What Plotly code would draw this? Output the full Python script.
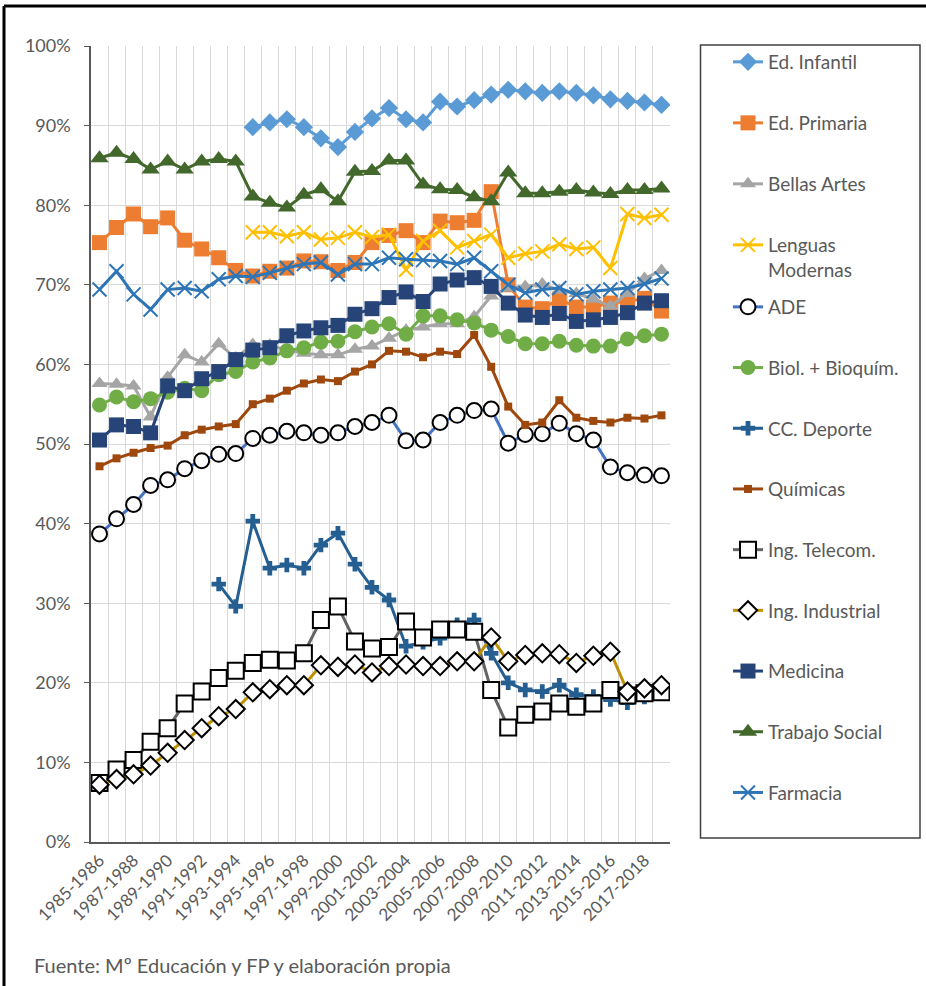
import plotly.graph_objects as go

cursos = ["1985-1986", "1986-1987", "1987-1988", "1988-1989", "1989-1990", "1990-1991",
          "1991-1992", "1992-1993", "1993-1994", "1994-1995", "1995-1996", "1996-1997",
          "1997-1998", "1998-1999", "1999-2000", "2000-2001", "2001-2002", "2002-2003",
          "2003-2004", "2004-2005", "2005-2006", "2006-2007", "2007-2008", "2008-2009",
          "2009-2010", "2010-2011", "2011-2012", "2012-2013", "2013-2014", "2014-2015",
          "2015-2016", "2016-2017", "2017-2018", "2018-2019"]

ed_infantil = [None, None, None, None, None, None, None, None, None,
               89.8, 90.4, 90.8, 89.8, 88.4, 87.3, 89.2, 90.9, 92.2, 90.8, 90.4, 93.0, 92.4,
               93.2, 93.9, 94.5, 94.3, 94.1, 94.3, 94.1, 93.8, 93.3, 93.1, 92.9, 92.6]
ed_primaria = [75.3, 77.2, 78.9, 77.3, 78.4, 75.6, 74.5, 73.4, 71.8, 71.1, 71.7, 72.1, 73.0,
               72.9, 71.8, 72.8, 75.3, 76.2, 76.8, 75.3, 78.0, 77.8, 78.1, 81.7, 70.0, 67.2,
               67.0, 68.2, 67.2, 67.2, 67.7, 67.9, 68.3, 66.7]
bellas_artes = [57.6, 57.5, 57.3, 53.4, 58.4, 61.2, 60.3, 62.6, 60.8, 62.5, 62.4, 61.8, 61.4,
                61.2, 61.2, 61.9, 62.3, 63.3, 64.3, 64.7, 65.1, 65.1, 66.0, 68.6, 69.6, 69.8,
                70.1, 69.3, 68.9, 68.2, 67.3, 68.9, 70.8, 71.8]
lenguas_modernas = [None, None, None, None, None, None, None, None, None,
                    76.6, 76.6, 76.1, 76.6, 75.7, 75.9, 76.6, 76.0, 76.3, 71.9, 75.5, 76.8,
                    74.7, 75.5, 76.3, 73.4, 73.9, 74.2, 75.1, 74.5, 74.7, 72.1, 78.9, 78.4, 78.8]
ade = [38.7, 40.6, 42.4, 44.8, 45.5, 46.9, 47.9, 48.7, 48.8, 50.7, 51.1, 51.6, 51.4, 51.1,
       51.4, 52.2, 52.7, 53.6, 50.4, 50.5, 52.7, 53.6, 54.2, 54.4, 50.1, 51.2, 51.3, 52.6,
       51.3, 50.5, 47.1, 46.4, 46.1, 46.0]
biol_bioquim = [54.9, 55.9, 55.3, 55.7, 56.5, 57.0, 56.7, 58.7, 59.1, 60.3, 60.8, 61.7, 62.1,
                62.8, 62.9, 64.1, 64.7, 65.1, 63.8, 66.1, 66.1, 65.6, 65.2, 64.3, 63.5, 62.6,
                62.6, 62.9, 62.4, 62.3, 62.3, 63.2, 63.6, 63.8]
cc_deporte = [None, None, None, None, None, None, None,
              32.4, 29.6, 40.3, 34.4, 34.8, 34.4, 37.3, 38.8, 34.9, 32.0, 30.4, 24.6, 25.1,
              25.6, 27.3, 27.9, 23.7, 20.0, 19.1, 18.9, 19.7, 18.5, 18.3, 17.9, 17.5, 18.2, 18.9]
quimicas = [47.2, 48.2, 48.9, 49.5, 49.8, 51.1, 51.8, 52.2, 52.5, 55.0, 55.7, 56.7, 57.6, 58.1,
            57.9, 59.1, 60.0, 61.7, 61.6, 60.9, 61.6, 61.3, 63.7, 59.7, 54.7, 52.4, 52.7, 55.5,
            53.3, 52.9, 52.7, 53.3, 53.2, 53.6]
ing_telecom = [7.4, 9.1, 10.3, 12.6, 14.3, 17.4, 18.9, 20.6, 21.5, 22.5, 22.9, 22.8, 23.7, 27.9,
               29.6, 25.2, 24.3, 24.5, 27.7, 25.7, 26.7, 26.7, 26.4, 19.1, 14.4, 16.0, 16.4,
               17.4, 17.0, 17.4, 19.1, 18.4, 18.7, 18.8]
ing_industrial = [7.2, 7.9, 8.5, 9.6, 11.2, 12.8, 14.3, 15.8, 16.7, 18.8, 19.2, 19.7, 19.7,
                  22.2, 22.0, 22.3, 21.3, 22.1, 22.3, 22.1, 22.1, 22.7, 22.7, 25.7, 22.7, 23.5,
                  23.7, 23.6, 22.5, 23.4, 23.9, 18.9, 19.3, 19.7]
medicina = [50.5, 52.4, 52.2, 51.4, 57.3, 56.7, 58.2, 59.1, 60.6, 61.8, 62.1, 63.6, 64.2, 64.6,
            64.9, 66.3, 67.0, 68.4, 69.1, 67.9, 70.1, 70.6, 70.9, 69.8, 67.7, 66.2, 65.9, 66.4,
            65.4, 65.6, 65.9, 66.5, 67.7, 68.0]
trabajo_social = [85.9, 86.6, 85.8, 84.5, 85.5, 84.5, 85.5, 85.8, 85.5, 81.1, 80.3, 79.7, 81.3,
                  82.0, 80.5, 84.2, 84.3, 85.6, 85.6, 82.6, 82.0, 81.9, 81.0, 80.5, 84.1, 81.5,
                  81.5, 81.7, 81.9, 81.6, 81.4, 81.9, 81.9, 82.1]
farmacia = [69.4, 71.7, 68.8, 66.9, 69.4, 69.6, 69.2, 70.7, 71.1, 71.0, 71.5, 72.1, 72.6, 72.8,
            71.3, 72.6, 72.6, 73.4, 73.2, 73.1, 73.0, 72.6, 73.4, 71.7, 70.0, 69.0, 69.4, 69.6,
            68.8, 69.2, 69.4, 69.6, 70.1, 70.8]

tick_labels = [c if i % 2 == 0 else "" for i, c in enumerate(cursos)]

FONT = "Lato, 'Open Sans', sans-serif"
TXT = "#595959"

series = [
    ("Ed. Infantil", ed_infantil, "#5B9BD5", dict(symbol="diamond", size=14, color="#5B9BD5")),
    ("Ed. Primaria", ed_primaria, "#ED7D31", dict(symbol="square", size=15, color="#ED7D31")),
    ("Bellas Artes", bellas_artes, "#A5A5A5", dict(symbol="triangle-up", size=14, color="#A5A5A5")),
    ("Lenguas<br>Modernas", lenguas_modernas, "#FFC000",
     dict(symbol="x-thin-open", size=14, color="#FFC000", line=dict(color="#FFC000", width=2))),
    ("ADE", ade, "#4472C4",
     dict(symbol="circle", size=15, color="white", line=dict(color="black", width=2))),
    ("Biol. + Bioquím.", biol_bioquim, "#70AD47", dict(symbol="circle", size=15, color="#70AD47")),
    ("CC. Deporte", cc_deporte, "#255E91", dict(symbol="cross", size=12, color="#255E91")),
    ("Químicas", quimicas, "#9E480E", dict(symbol="square", size=8, color="#9E480E")),
    ("Ing. Telecom.", ing_telecom, "#636363",
     dict(symbol="square", size=16, color="white", line=dict(color="black", width=2))),
    ("Ing. Industrial", ing_industrial, "#BF9000",
     dict(symbol="diamond", size=14, color="white", line=dict(color="black", width=2))),
    ("Medicina", medicina, "#264478", dict(symbol="square", size=15, color="#264478")),
    ("Trabajo Social", trabajo_social, "#43682B", dict(symbol="triangle-up", size=16, color="#43682B")),
    ("Farmacia", farmacia, "#2E75B6",
     dict(symbol="x-thin-open", size=14, color="#2E75B6", line=dict(color="#2E75B6", width=2))),
]

fig = go.Figure()
for i, (name, vals, col, mk) in enumerate(series):
    fig.add_trace(go.Scatter(
        x=cursos, y=vals, name=name, mode="lines+markers",
        line=dict(color=col, width=3), marker=mk,
        legendgroup=f"g{i}", connectgaps=False,
        legend="legend" if i < 4 else "legend2",
    ))

W, H = 926, 986
L, R, T, B = 91, 670, 46, 842
pw, ph = R - L, B - T


def px(xp):
    return (xp - L) / pw


def py(yp):
    return (B - yp) / ph


legend_common = dict(
    xanchor="left", yanchor="top", bgcolor="rgba(0,0,0,0)", borderwidth=0,
    valign="top", maxheight=960, font=dict(family=FONT, size=19, color=TXT),
)

fig.update_layout(
    width=W, height=H,
    margin=dict(l=L, r=W - R, t=T, b=H - B, autoexpand=False),
    paper_bgcolor="white", plot_bgcolor="white",
    font=dict(family=FONT, size=17, color=TXT),
    showlegend=True,
    legend=dict(x=px(728), y=py(43), tracegroupgap=33.3, **legend_common),
    legend2=dict(x=px(728), y=py(288), tracegroupgap=33, **legend_common),
    xaxis=dict(
        type="category", tickmode="array", tickvals=cursos, ticktext=tick_labels,
        tickson="boundaries", showgrid=True, gridcolor="#D9D9D9", gridwidth=1,
        ticks="", tickangle=-45, showline=True, linecolor="#595959", linewidth=1.5,
        tickfont=dict(family=FONT, size=17, color=TXT), range=[-0.5, 33.5],
    ),
    yaxis=dict(
        range=[0, 100], dtick=10, ticksuffix="%", showgrid=True, gridcolor="#D9D9D9",
        gridwidth=1, showline=True, linecolor="#595959", linewidth=1.5,
        ticks="outside", ticklen=5, tickcolor="#595959", zeroline=False,
        ticklabelstandoff=10,
        tickfont=dict(family=FONT, size=18, color=TXT),
    ),
    shapes=[
        dict(type="rect", xref="paper", yref="paper",
             x0=px(700.5), x1=px(920), y0=py(838), y1=py(45),
             line=dict(color="#404040", width=1.5)),
        dict(type="line", xref="paper", yref="paper",
             x0=px(4), x1=px(4), y0=py(6), y1=py(1000),
             line=dict(color="black", width=3)),
        dict(type="line", xref="paper", yref="paper",
             x0=px(4), x1=px(930), y0=py(6), y1=py(6),
             line=dict(color="black", width=3)),
    ],
    annotations=[
        dict(text="Fuente: Mº Educación y FP y elaboración propia", xref="paper", yref="paper",
             x=px(32), y=py(965), xanchor="left", yanchor="middle", showarrow=False,
             font=dict(family=FONT, size=20, color=TXT)),
    ],
)

fig.write_html("out.html")
